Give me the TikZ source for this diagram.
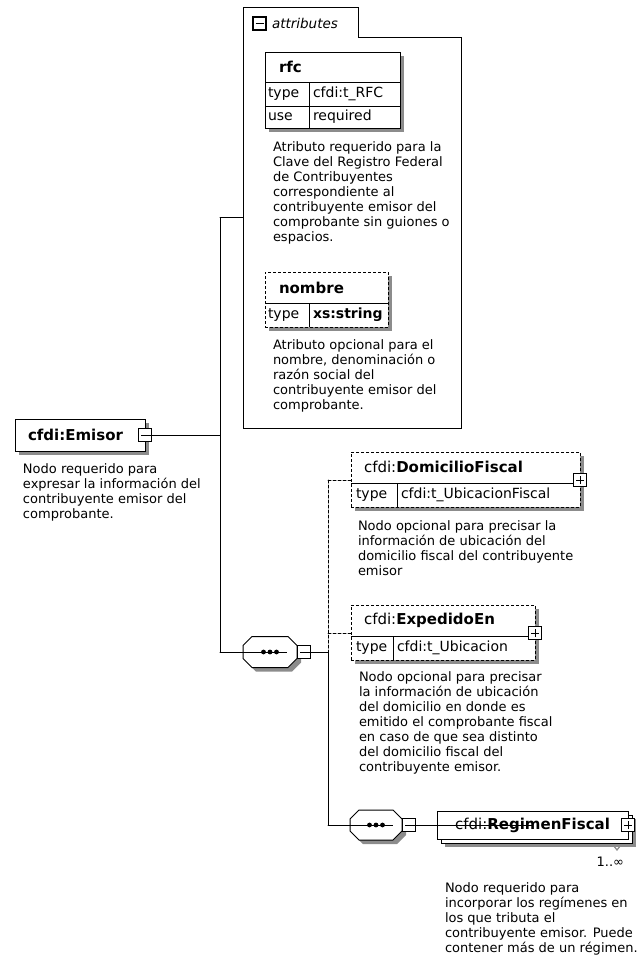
\documentclass[tikz,border=0pt]{standalone}
\usepackage{fontspec}
\setmainfont{DejaVu Sans}
\usepackage{tkz-euclide}
\usetikzlibrary{shadows}

\begin{document}
\begin{tikzpicture}[x=1pt,y=-1pt,line width=1pt,
    every node/.style={inner sep=0pt,outer sep=0pt},
    wire/.style={line width=1pt,black},
    optwire/.style={wire,dash pattern=on 3pt off 2pt},
    shade box/.style={drop shadow={shadow xshift=4pt,shadow yshift=-4pt,fill=black!45,opacity=1}},
    elem/.style={draw,fill=white,anchor=north west,shade box},
    optelem/.style={elem,dash pattern=on 3pt off 2pt},
    elname/.style={anchor=west,font=\fontsize{15}{17}\selectfont},
    cell/.style={anchor=west,font=\fontsize{14}{16}\selectfont},
    descr/.style={anchor=north west,align=left,font=\fontsize{13}{15}\selectfont},
    pmbox/.style={draw,fill=white,minimum size=13pt,line width=1.3pt},
    minusbox/.style={pmbox,path picture={\draw[line width=1pt] ([xshift=2.5pt]path picture bounding box.west) -- ([xshift=-2.5pt]path picture bounding box.east);}},
    plusbox/.style={pmbox,path picture={\draw[line width=1pt] ([xshift=2.5pt]path picture bounding box.west) -- ([xshift=-2.5pt]path picture bounding box.east) ([yshift=2.5pt]path picture bounding box.south) -- ([yshift=-2.5pt]path picture bounding box.north);}},
    seqbox/.style={minimum width=54pt,minimum height=31pt},
    shadowfill/.style={fill=black!45,draw=none,transform canvas={xshift=4pt,yshift=-4pt}}]
                \useasboundingbox (0,0) rectangle (639,964);

                % attributes group
                \node[anchor=north west,minimum width=218pt,minimum height=421pt] (attrs) at (243,7) {};
                \draw (attrs.south west) -- (attrs.north west) -- ++(115,0) -- ++(0,30) -- ([yshift=-30pt]attrs.north east) -- (attrs.south east) -- cycle;
                \node[minusbox] (attrspm) at (259.5,23.5) {};
                \node[anchor=west,font=\fontsize{13.5}{16}\itshape] (attrslbl) at (272,23) {attributes};

                \node[elem,minimum width=135pt,minimum height=76pt] (rfc) at (265,52) {};
                \draw ([yshift=-30pt]rfc.north west) -- ([yshift=-30pt]rfc.north east);
                \draw ([yshift=-54pt]rfc.north west) -- ([yshift=-54pt]rfc.north east);
                \draw ([xshift=44pt,yshift=-30pt]rfc.north west) -- ([xshift=44pt]rfc.south west);
                \node[elname] (rfcname) at (279,67) {\bfseries rfc};
                \node[cell] (rfctype) at (268,94) {type};
                \node[cell] (rfctypeval) at (313,94) {cfdi:t\_RFC};
                \node[cell] (rfcuse) at (268,117) {use};
                \node[cell] (rfcuseval) at (313,117) {required};
                \node[descr] (rfcdoc) at (273,142) {Atributo requerido para la\\Clave del Registro Federal\\de Contribuyentes\\correspondiente al\\contribuyente emisor del\\comprobante sin guiones o\\espacios.};

                \node[optelem,minimum width=123pt,minimum height=55pt] (nombre) at (265,272) {};
                \draw ([yshift=-31pt]nombre.north west) -- ([yshift=-31pt]nombre.north east);
                \draw ([xshift=44pt,yshift=-31pt]nombre.north west) -- ([xshift=44pt]nombre.south west);
                \node[elname] (nombrename) at (279,288) {\bfseries nombre};
                \node[cell] (nombretype) at (268,315) {type};
                \node[cell] (nombretypeval) at (313,315) {\bfseries xs:string};
                \node[descr] (nombredoc) at (273,340) {Atributo opcional para el\\nombre, denominación o\\razón social del\\contribuyente emisor del\\comprobante.};

                % root element
                \node[elem,minimum width=130pt,minimum height=32pt] (emisor) at (15,419) {};
                \node[elname] (emisorname) at (28,435) {\bfseries cfdi:Emisor};
                \node[minusbox] (emisorpm) at (emisor.east) {};
                \node[descr] (emisordoc) at (23,464) {Nodo requerido para\\expresar la información del\\contribuyente emisor del\\comprobante.};

                \coordinate (attrsin) at (attrs.west);
                \tkzDefPoint(220,217.5){busT}
                \tkzDefPoint(220,435){busE}
                \tkzDefPoint(220,652){busB}
                \tkzDrawSegment[wire](busT,busB)
                \tkzDrawSegment[wire](busT,attrsin)
                \tkzDrawSegment[wire](emisorpm,busE)

                % sequences (octagons)
                \node[seqbox] (seqone) at (270,652) {};
                \node[seqbox,minimum width=52pt,minimum height=30pt] (seqtwo) at (376,825) {};
                \foreach \s in {seqone,seqtwo} {
                  \fill[shadowfill] ([xshift=9pt]\s.north west) -- ([xshift=-9pt]\s.north east) -- ([yshift=-9pt]\s.north east) -- ([yshift=9pt]\s.south east) -- ([xshift=-9pt]\s.south east) -- ([xshift=9pt]\s.south west) -- ([yshift=9pt]\s.south west) -- ([yshift=-9pt]\s.north west) -- cycle;
                  \draw[fill=white] ([xshift=9pt]\s.north west) -- ([xshift=-9pt]\s.north east) -- ([yshift=-9pt]\s.north east) -- ([yshift=9pt]\s.south east) -- ([xshift=-9pt]\s.south east) -- ([xshift=9pt]\s.south west) -- ([yshift=9pt]\s.south west) -- ([yshift=-9pt]\s.north west) -- cycle;
                  \draw ([xshift=-17pt]\s.center) -- ([xshift=17pt]\s.center);
                  \foreach \d in {-6.5,0,6.5}
                    \fill ([xshift=\d pt]\s.center) circle (2.4pt);
                }
                \node[minusbox] (seqonepm) at (304,652) {};
                \tkzDrawSegment[wire](busB,seqone)
                \tkzDefPoint(328,652){busC}
                \tkzDefPoint(328,480){busD}
                \tkzDefPoint(328,633){busX}
                \tkzDefPoint(328,825){busR}
                \tkzDrawSegment[wire](seqonepm,busC)
                \tkzDrawSegment[optwire](busD,busC)
                \tkzDrawSegment[wire](busC,busR)

                \node[optelem,minimum width=229pt,minimum height=55pt] (dom) at (351,452) {};
                \draw ([yshift=-31pt]dom.north west) -- ([yshift=-31pt]dom.north east);
                \draw ([xshift=46pt,yshift=-31pt]dom.north west) -- ([xshift=46pt]dom.south west);
                \node[elname] (domname) at (364,467) {cfdi:\textbf{DomicilioFiscal}};
                \node[cell] (domtype) at (356,495) {type};
                \node[cell] (domtypeval) at (401,495) {cfdi:t\_UbicacionFiscal};
                \node[plusbox] (dompm) at (580,480) {};
                \tkzDefPoint(351,480){domin}
                \tkzDrawSegment[optwire](busD,domin)
                \node[descr] (domdoc) at (358,521) {Nodo opcional para precisar la\\información de ubicación del\\domicilio fiscal del contribuyente\\emisor};

                \node[optelem,minimum width=184pt,minimum height=55pt] (exp) at (351,605) {};
                \draw ([yshift=-31pt]exp.north west) -- ([yshift=-31pt]exp.north east);
                \draw ([xshift=42pt,yshift=-31pt]exp.north west) -- ([xshift=42pt]exp.south west);
                \node[elname] (expname) at (364,620) {cfdi:\textbf{ExpedidoEn}};
                \node[cell] (exptype) at (356,648) {type};
                \node[cell] (exptypeval) at (397,648) {cfdi:t\_Ubicacion};
                \node[plusbox] (exppm) at (535,633) {};
                \tkzDefPoint(351,633){expin}
                \tkzDrawSegment[optwire](busX,expin)
                \node[descr] (expdoc) at (359,672) {Nodo opcional para precisar\\la información de ubicación\\del domicilio en donde es\\emitido el comprobante fiscal\\en caso de que sea distinto\\del domicilio fiscal del\\contribuyente emisor.};

                % second sequence
                \tkzDrawSegment[wire](busR,seqtwo)
                \node[minusbox] (seqtwopm) at (409,825) {};
                \node[elem,minimum width=191pt,minimum height=28pt] (regback) at (441,815) {};
                \node[draw,fill=white,minimum width=191pt,minimum height=28pt,font=\fontsize{15}{17}\selectfont] (reg) at (532.5,825) {cfdi:\textbf{RegimenFiscal}};
                \tkzDrawSegment[wire](seqtwopm,reg)
                \node[plusbox] (regpm) at (reg.east) {};
                \draw[black!45,line width=1.2pt] (613,845) -- (617,850) -- (621,845);
                \node[anchor=east,font=\fontsize{13}{15}\selectfont] (regocc) at (624,862) {1..∞};
                \node[descr] (regdoc) at (445,883) {Nodo requerido para\\incorporar los regímenes en\\los que tributa el\\contribuyente emisor. Puede\\contener más de un régimen.};
            \end{tikzpicture}
\end{document}
